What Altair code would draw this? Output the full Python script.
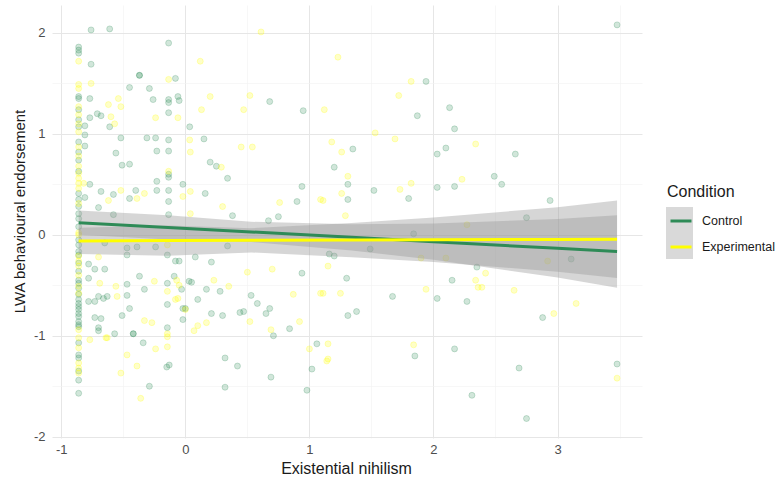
import altair as alt
import pandas as pd

# ---- data ----
ctrl_x = [-0.76, -0.61, -0.86, -0.86, -0.86, -0.76, -0.37, -0.37, -0.135, -0.45, -0.29, -0.08, -0.86, -0.86,
          -0.77, -0.26, -0.06, -0.05, -0.135, -0.135, 0.68, 0.95, -0.71, -0.68, -0.77, -0.135, -0.81, -0.61,
          0.035, -0.81, -0.52, -0.31, -0.24, -0.135, 0.15, -0.81, -0.56, -0.23, -0.135, -0.51, -0.45, 0.20,
          0.25, 0.34, -0.135, -0.135, -0.77, -0.23, -0.02, -0.68, -0.58, -0.40, -0.23, -0.135, 0.16, 0.94,
          -0.81, -0.45, -0.135, 0.90, -0.70, -0.58, -0.135, 0.38, 0.67, 0.75,
          -0.86, -0.86, -0.86, -0.86, -0.86, -0.86, -0.86, -0.86, -0.86, -0.86, -0.86, -0.86, -0.86, -0.86, -0.86,
          3.48, 1.94, 1.87, 2.13, 2.17, 1.35, 2.10, 2.03, 2.66, 1.20, 1.31, 2.49, 2.55, 1.52, 2.03, 2.17, 1.31,
          1.80, 2.94, 2.75, 1.84,
          1.49, 1.16, 1.20, 1.30, 1.31, 1.38, 1.67, 2.03, 2.15, 2.27, 2.35, 2.88, 3.11, 1.85, 2.17, 2.69, 2.31,
          2.75, 3.48,
          -0.65, -0.47, -0.39, -0.24, -0.47, -0.145, -0.08, -0.05, 0.08, 0.21, 0.34, -0.78, -0.73, -0.65, -0.78,
          -0.37, -0.47, -0.33, -0.145, -0.09, 0.03, 0.05, -0.03, 0.17, 0.28, 0.10, 0.53, 0.58, 0.94, -0.47,
          -0.78, -0.73, -0.70, -0.66, -0.63, -0.73, -0.68, -0.51, -0.45, -0.145, -0.02, 0.0, -0.02, 0.21, 0.30,
          0.44, 0.47, 0.65, 0.68, -0.70, -0.70, -0.57, -0.42, -0.42, -0.34, -0.145, 0.71, 0.84, 1.06, 1.02,
          0.32, 0.42, 0.69, 0.32, 0.98, -0.29, -0.15, -0.13,
          -0.86, -0.86, -0.86, -0.86, -0.86, -0.86, -0.86, -0.86, -0.86, -0.86, -0.86, -0.86, -0.86, -0.86,
          -0.86, -0.86, -0.86, -0.86, -0.86, -0.86, -0.86, -0.86, -0.86]
ctrl_y = [2.03, 2.04, 1.86, 1.83, 1.80, 1.69, 1.58, 1.58, 1.90, 1.46, 1.45, 1.55, 1.37, 1.35,
          1.35, 1.34, 1.37, 1.33, 1.34, 1.31, 1.32, 1.23, 1.20, 1.18, 1.16, 1.21, 1.08, 1.07,
          1.07, 0.99, 0.96, 0.96, 0.96, 0.94, 0.95, 0.88, 0.81, 0.83, 0.83, 0.69, 0.70, 0.72,
          0.68, 0.56, 0.60, 0.57, 0.50, 0.53, 0.50, 0.43, 0.40, 0.44, 0.44, 0.44, 0.41, 0.48,
          0.37, 0.36, 0.33, 0.33, 0.27, 0.20, 0.20, 0.19, 0.14, 0.18,
          1.24, 1.14, 1.07, 0.92, 0.82, 0.74, 0.63, 0.41, 0.35, 0.28, 0.21, 0.16, 0.08, -0.05, -0.10,
          2.08, 1.52, 1.18, 1.26, 1.05, 0.85, 0.86, 0.80, 0.80, 0.67, 0.50, 0.58, 0.50, 0.44, 0.47, 0.48, 0.35,
          0.36, 0.34, 0.17, 0.01,
          -0.14, -0.19, -0.21, -0.43, -0.80, -0.76, -0.61, -0.63, -0.45, -0.66, -0.32, -0.82, -0.24, -1.20, -1.13,
          -1.32, -1.59, -1.82, -1.28,
          -0.08, -0.13, -0.12, -0.12, -0.20, -0.20, -0.26, -0.26, -0.22, -0.27, -0.11, -0.29, -0.34, -0.34, -0.43,
          -0.41, -0.49, -0.54, -0.48, -0.41, -0.46, -0.47, -0.54, -0.54, -0.56, -0.64, -0.60, -0.68, -0.38, -0.60,
          -0.66, -0.66, -0.61, -0.63, -0.61, -0.82, -0.83, -0.80, -0.73, -0.69, -0.73, -0.73, -0.84, -0.78, -0.80,
          -0.77, -0.76, -0.78, -0.73, -0.95, -0.92, -0.98, -0.98, -0.98, -1.07, -0.92, -1.00, -0.93, -1.08, -1.33,
          -1.22, -1.30, -1.41, -1.51, -1.54, -1.50, -1.31, -1.29,
          -0.165, -0.20, -0.28, -0.36, -0.45, -0.48, -0.53, -0.59, -0.64, -0.68, -0.71, -0.74, -0.78, -0.81,
          -0.86, -0.89, -0.91, -1.07, -1.19, -1.22, -1.35, -1.44, -1.57]

exp_x = [-0.86, -0.135, 0.12, 0.61, -0.76, 0.20, 0.52, 1.12, 0.47, 0.13, -0.54, -0.62, -0.60, -0.52, -0.24,
         -0.06, -0.57, 0.035, 0.04, 0.45, 0.54, 0.29, -0.135, -0.82, -0.52, -0.33, 0.04, -0.39, -0.62, -0.02,
         0.76, 1.09, 0.04, 0.30,
         -0.86, -0.86, -0.86, -0.86, -0.86, -0.86, -0.86, -0.86, -0.86, -0.86, -0.86, -0.86, -0.86, -0.86, -0.86,
         1.23, 1.82, 1.72, 1.53, 1.69, 1.18, 1.26, 2.34, 1.31, 2.23, 1.82, 1.73, 1.26, 1.11, 1.29, 2.27,
         1.15, 1.11, 1.25, 1.94, 2.34, 2.36, 2.39, 2.42, 2.10, 1.90, 2.65, 2.97, 2.92, 3.15, 1.15, 1.15, 1.84, 3.48,
         -0.70, -0.25, -0.145, 0.23, 0.35, -0.06, 0.87, 1.09, 0.50, 0.70, -0.55, -0.33, -0.27, -0.08, -0.63,
         -0.77, -0.145, -0.145, -0.145, 0.10, 0.17, 0.07, 0.52, 0.69, 0.92, 1.00, 1.14, -0.47, -0.39, -0.52,
         -0.36, -0.24, -0.145, -0.69, -0.56, -0.07, -0.05, -0.64, 0.0,
         -0.86, -0.86, -0.86, -0.86, -0.86, -0.86, -0.86, -0.86, -0.86, -0.86, -0.86, -0.86, -0.86]
exp_y = [1.72, 1.54, 1.72, 2.01, 1.50, 1.37, 1.38, 1.24, 1.24, 1.24, 1.35, 1.29, 1.17, 1.27, 1.16,
         1.16, 1.10, 0.94, 0.82, 0.87, 0.87, 0.67, 0.63, 0.51, 0.44, 0.41, 0.43, 0.36, 0.34, 0.38,
         0.32, 0.35, 0.21, 0.28,
         1.49, 1.45, 1.27, 1.19, 1.10, 1.02, 0.87, 0.78, 0.68, 0.61, 0.56, 0.51, 0.46, 0.31, 0.02,
         1.76, 1.52, 1.38, 1.01, 0.95, 0.92, 0.82, 0.90, 0.58, 0.55, 0.51, 0.45, 0.41, 0.34, 0.19, 0.10,
         -0.31, -0.58, -0.58, -0.54, -0.45, -0.52, -0.52, -0.38, -0.23, -0.23, -0.55, -0.78, -0.26, -0.68, -1.08,
         -1.23, -1.09, -1.42,
         -0.22, -0.46, -0.56, -0.45, -0.51, -0.63, -0.59, -0.58, -0.37, -0.34, -0.61, -0.85, -0.87, -0.64, -1.02,
         -1.04, -0.98, -1.01, -1.11, -0.90, -0.87, -0.95, -0.86, -0.94, -0.86, -1.13, -1.25, -1.19, -1.30, -1.37,
         -1.62, -1.13, -0.10, -0.48, -0.51, -0.45, -0.50, -1.02, -0.74,
         -0.21, -0.26, -0.31, -0.40, -0.51, -0.58, -0.94, -1.02, -1.12, -1.27, -1.32, -1.37, 0.0]

# fitted lines and confidence bands, read at a few x positions
band_x = [-0.86, -0.14, 0.53, 1.34, 2.0, 3.0, 3.48]
ctrl_fit = [0.12, 0.073, 0.029, -0.025, -0.068, -0.134, -0.165]
ctrl_lo = [0.0, -0.047, -0.071, -0.155, -0.248, -0.424, -0.525]
ctrl_hi = [0.24, 0.193, 0.129, 0.105, 0.112, 0.156, 0.195]
exp_fit = [-0.06, -0.057, -0.055, -0.052, -0.049, -0.046, -0.044]
exp_lo = [-0.19, -0.207, -0.175, -0.222, -0.269, -0.366, -0.429]
exp_hi = [0.07, 0.093, 0.065, 0.118, 0.171, 0.274, 0.341]

conditions = ["Control", "Experimental"]
colors = ["#2E8B57", "#FFFF00"]

x_ticks = [-1, -0.5, 0, 0.5, 1, 1.5, 2, 2.5, 3, 3.5]
y_ticks = [-2, -1.5, -1, -0.5, 0, 0.5, 1, 1.5, 2]

# ---- tables ----
color_of = dict(zip(conditions, colors))
pts = pd.DataFrame({
    "x": ctrl_x + exp_x,
    "y": ctrl_y + exp_y,
    "condition": ["Control"] * len(ctrl_x) + ["Experimental"] * len(exp_x),
})
pts["pcolor"] = pts["condition"].map(color_of)
fit = pd.DataFrame({
    "x": band_x + band_x,
    "fit": ctrl_fit + exp_fit,
    "lo": ctrl_lo + exp_lo,
    "hi": ctrl_hi + exp_hi,
    "condition": ["Control"] * len(band_x) + ["Experimental"] * len(band_x),
})

FONT = "Liberation Sans"
xscale = alt.Scale(domain=[-1.075, 3.681], nice=False, zero=False)
yscale = alt.Scale(domain=[-2.013, 2.277], nice=False, zero=False)
cscale = alt.Scale(domain=conditions, range=colors)

grid_color = {"condition": {"test": "datum.value % 1 === 0", "value": "#e6e6e6"}, "value": "#f2f2f2"}
grid_width = {"condition": {"test": "datum.value % 1 === 0", "value": 1.0}, "value": 0.6}
label_expr = "datum.value % 1 === 0 ? '' + datum.value : ''"

xaxis = alt.Axis(values=x_ticks, labelExpr=label_expr,
                 grid=True, gridColor=grid_color, gridWidth=grid_width, domain=False, ticks=False,
                 tickSize=0, labelPadding=5, labelFlush=False, labelOverlap=False,
                 labelColor="#4d4d4d", labelFontSize=13, labelFont=FONT,
                 title="Existential nihilism", titleFont=FONT, titleFontSize=16, titleFontWeight="normal",
                 titleColor="#1a1a1a", titleX=294, titleY=30,
                 titleAlign="center", titleBaseline="middle")
yaxis = alt.Axis(values=y_ticks, labelExpr=label_expr,
                 grid=True, gridColor=grid_color, gridWidth=grid_width, domain=False, ticks=False,
                 tickSize=0, labelPadding=7, labelFlush=False, labelOverlap=False,
                 labelColor="#4d4d4d", labelFontSize=13, labelFont=FONT,
                 title="LWA behavioural endorsement", titleFont=FONT, titleFontSize=15,
                 titleFontWeight="normal", titleColor="#1a1a1a", titleX=-33, titleY=206,
                 titleAngle=270, titleAlign="center", titleBaseline="middle")

# grey box behind legend keys (legend decoration)
key_box = alt.Chart(pd.DataFrame({"k": [0]})).mark_rect(color="#d9d9d9").encode(
    x=alt.value(614), x2=alt.value(641), y=alt.value(202), y2=alt.value(254))

points = alt.Chart(pts).mark_circle(size=36, fillOpacity=0.22, strokeOpacity=0.3, strokeWidth=0.8).encode(
    x=alt.X("x:Q", scale=xscale, axis=xaxis),
    y=alt.Y("y:Q", scale=yscale, axis=yaxis),
    fill=alt.Fill("pcolor:N", scale=None),
    stroke=alt.Stroke("pcolor:N", scale=None),
)

bands = alt.Chart(fit).mark_area(color="#999999", opacity=0.4).encode(
    x=alt.X("x:Q", scale=xscale),
    y=alt.Y("lo:Q", scale=yscale),
    y2="hi:Q",
    detail="condition:N",
)

lines = alt.Chart(fit).mark_line(strokeWidth=3).encode(
    x=alt.X("x:Q", scale=xscale),
    y=alt.Y("fit:Q", scale=yscale),
    color=alt.Color("condition:N", scale=cscale,
                    legend=alt.Legend(title="Condition", orient="none", legendX=615, legendY=179,
                                      symbolType="stroke", symbolStrokeWidth=3, symbolSize=441,
                                      symbolOffset=2, labelOffset=9, rowPadding=7, titlePadding=9,
                                      titleFont=FONT, titleFontSize=16, titleFontWeight="normal",
                                      titleColor="#1a1a1a", labelFont=FONT, labelFontSize=12.5,
                                      labelColor="#1a1a1a")),
)

chart = alt.layer(key_box, points, bands, lines).properties(
    width=590, height=433,
    autosize=alt.AutoSizeParams(type="none"),
    padding={"left": 52, "top": 5, "right": 136, "bottom": 41},
    background="white",
).configure_view(stroke=None)

chart.save("out.html", embed_options={"renderer": "svg", "actions": False})
